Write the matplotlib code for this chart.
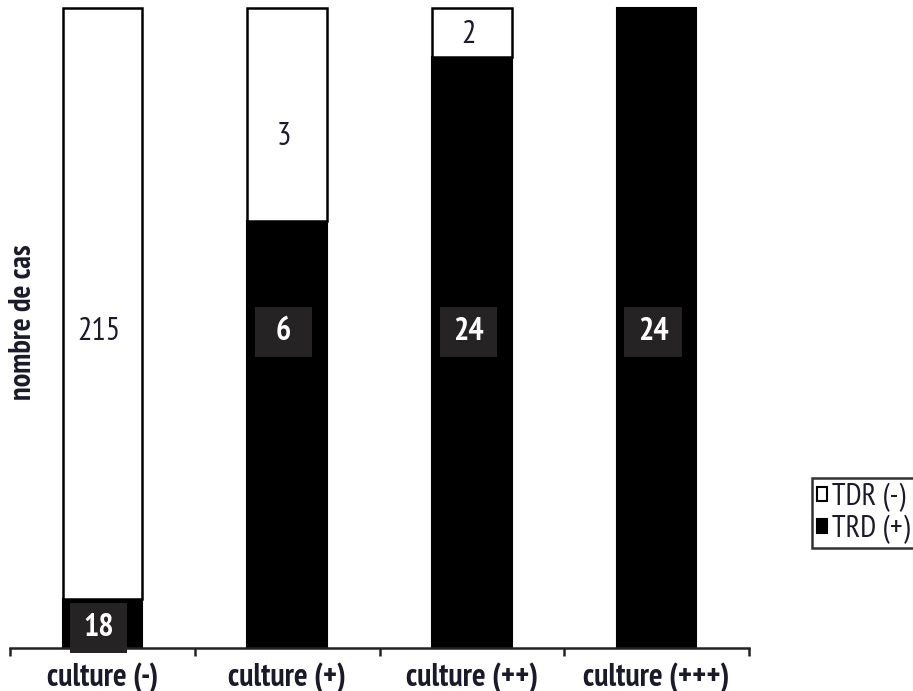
import matplotlib
matplotlib.use("Agg")
import matplotlib.pyplot as plt
from matplotlib.patches import Patch, Rectangle
import numpy as np

categories = ["culture (-)", "culture (+)", "culture (++)", "culture (+++)"]
trd_pos = [18, 6, 24, 24]     # TRD (+) cases, black segment
tdr_neg = [215, 3, 2, 0]      # TDR (-) cases, white segment
series_names = ["TDR (-)", "TRD (+)"]

# vertical placement of the value labels, as a fraction of the bar height
trd_label_y = [0.031, 0.494, 0.494, 0.494]
tdr_label_y = [0.494, 0.798, 0.958, None]

plt.rcParams['font.family'] = ['PT Sans Narrow', 'DejaVu Sans']

W, H = 913, 691
fig = plt.figure(figsize=(W / 100, H / 100), dpi=100)
ax = fig.add_axes([10 / W, 43 / H, (749 - 10) / W, (648 - 8) / H])

x = np.arange(len(categories))
trd = np.array(trd_pos, dtype=float)
tdr = np.array(tdr_neg, dtype=float)
total = trd + tdr
share_trd = trd / total
share_tdr = tdr / total

bar_w = 0.43
ax.bar(x, share_trd, width=bar_w, color='black', edgecolor='black',
       linewidth=1.5, clip_on=False, zorder=2)
has_tdr = tdr > 0
ax.bar(x[has_tdr], share_tdr[has_tdr], bottom=share_trd[has_tdr], width=bar_w,
       color='white', edgecolor='black', linewidth=1.8, clip_on=False, zorder=2)

# value labels: TRD counts on dark boxes, TDR counts as plain text
box_w, box_h = 0.31, 0.078
for xi, v, yl in zip(x, trd_pos, trd_label_y):
    ax.add_patch(Rectangle((xi - 0.02 - box_w / 2, yl - box_h / 2), box_w, box_h,
                           facecolor='#262324', edgecolor='none', zorder=3,
                           clip_on=False))
    ax.text(xi - 0.02, yl, str(v), ha='center', va='center', color='white',
            fontsize=23, fontweight='bold', zorder=4)
for xi, v, yl in zip(x, tdr_neg, tdr_label_y):
    if v > 0 and yl is not None:
        ax.text(xi - 0.02, yl, str(v), ha='center', va='center', color='#1a1a2a',
                fontsize=23, zorder=4)

ax.set_xlim(-0.5, len(categories) - 0.5)
ax.set_ylim(0, 1)
for s in ['top', 'right', 'left']:
    ax.spines[s].set_visible(False)
ax.spines['bottom'].set_linewidth(1.8)
ax.spines['bottom'].set_color('#222222')
ax.set_yticks([])

ax.set_xticks(np.arange(-0.5, len(categories)))
ax.set_xticklabels([])
ax.tick_params(axis='x', which='major', length=6, width=1.8, color='#222222',
               direction='out')
ax.set_xticks(x, minor=True)
ax.set_xticklabels(categories, minor=True, fontsize=23, fontweight='bold',
                   color='#1a1a2a')
ax.tick_params(axis='x', which='minor', length=0, pad=10)

fig.text(23 / W, 1 - 322 / H, "nombre de cas", rotation=90, ha='center',
         va='center', fontsize=22, fontweight='bold', color='#1a1a2a')

handles = [Patch(facecolor='white', edgecolor='black', linewidth=1.5),
           Patch(facecolor='black', edgecolor='black', linewidth=1.5)]
leg = fig.legend(handles, series_names, loc='upper left',
                 bbox_to_anchor=(812 / W, 1 - 478 / H), frameon=True,
                 fancybox=False, edgecolor='black', fontsize=22,
                 handlelength=0.35, handleheight=0.35, handletextpad=0.15,
                 borderpad=0.15, labelspacing=0.1, borderaxespad=0)
leg.get_frame().set_linewidth(1.8)
for t in leg.get_texts():
    t.set_color('#1a1a2a')

fig.savefig("out.png", dpi=100)
